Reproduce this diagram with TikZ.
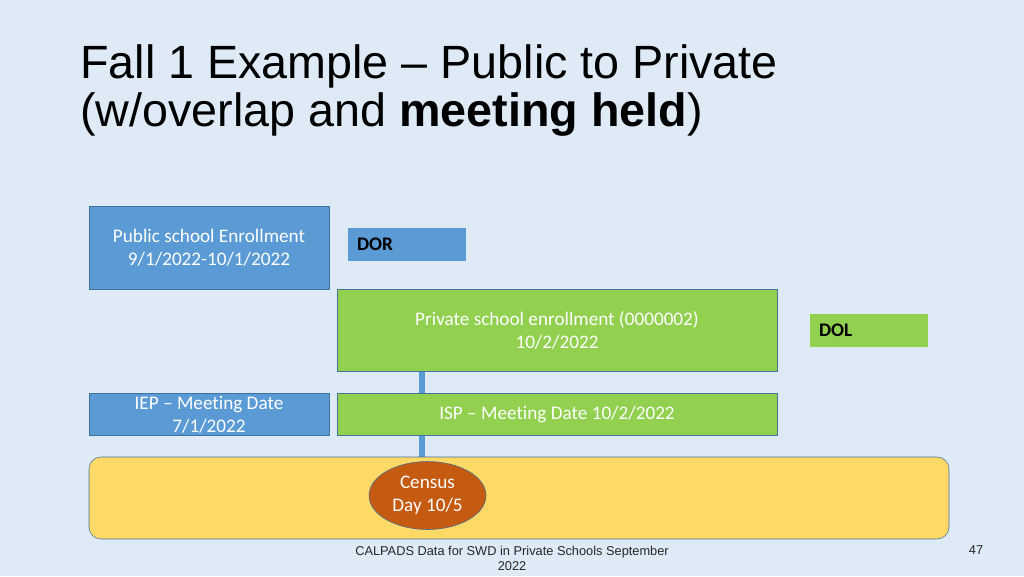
\documentclass[tikz,border=0pt]{standalone}
\usepackage{fontspec}
\setmainfont{Carlito}[Ligatures={TeX,NoCommon}]
\newfontfamily\titlefont{Liberation Sans}
\usetikzlibrary{shapes.geometric,calc}

\definecolor{slidebg}{RGB}{222,235,247}
\definecolor{bluefill}{RGB}{91,155,213}
\definecolor{blueline}{RGB}{65,113,156}
\definecolor{greenfill}{RGB}{146,208,80}
\definecolor{yellowfill}{RGB}{255,217,102}
\definecolor{censusfill}{RGB}{197,90,17}

\newcommand{\boxfont}{\fontsize{14.4}{17.25}\selectfont}

\pgfdeclarelayer{back}
\pgfsetlayers{back,main}

\tikzset{every picture/.style={line width=0.75pt}}
\tikzset{
	bluebox/.style={draw=blueline, fill=bluefill, text=white, font=\boxfont, align=center, inner sep=0pt, minimum width=180pt},
	greenbox/.style={draw=blueline, fill=greenfill, text=white, font=\boxfont, align=center, inner sep=0pt, minimum width=330pt},
	tagbox/.style={fill=#1, text=black, font=\boxfont\bfseries, align=left, inner xsep=6.75pt, inner ysep=0pt, text width=75pt, minimum height=24.75pt},
	footer/.style={font=\titlefont\fontsize{9.6}{11.25}\selectfont, text=black!85, align=center, inner sep=0pt}
}

\begin{document}
\begin{tikzpicture}[x=0.75pt,y=0.75pt,yscale=-1,xscale=1]
	\useasboundingbox (0,0) rectangle (1024,576);
	\begin{pgfonlayer}{back}
	\fill [slidebg] (0,0) rectangle (1024,576);
	\end{pgfonlayer}

	% Title
	\draw (80,78) node [anchor=base west, inner sep=0pt, font=\titlefont\fontsize{35}{36}\selectfont] (title1) {Fall 1 Example – Public to Private};
	\draw (80,126) node [anchor=base west, inner sep=0pt, font=\titlefont\fontsize{35}{36}\selectfont] (title2) {(w/overlap and \textbf{meeting held})};

	%Shape: Rectangle
	\draw (209,247.5) node [bluebox, minimum height=62.25pt] (pub) {Public school Enrollment\\9/1/2022-10/1/2022};
	%Shape: Rectangle
	\draw (407,244.5) node [tagbox=bluefill] (dor) {DOR};
	%Shape: Rectangle
	\draw (557,330.5) node [greenbox, minimum height=61.5pt] (priv) {Private school enrollment (0000002)\\10/2/2022};
	%Shape: Rectangle
	\draw (869,330.5) node [tagbox=greenfill] (dol) {DOL};
	%Shape: Rectangle
	\draw (209,414.5) node [bluebox, minimum height=31.5pt] (iep) {IEP – Meeting Date\\7/1/2022};
	%Shape: Rectangle
	\draw (557,414.5) node [greenbox, minimum height=31.5pt] (isp) {ISP – Meeting Date 10/2/2022};

	%Shape: Rounded Rect
	\draw (519,498) node [draw=blueline, fill=yellowfill, rounded corners=9pt, minimum width=645pt, minimum height=61.5pt, inner sep=0pt] (band) {};
	%Shape: Ellipse
	\draw (427.5,495.5) node [ellipse, draw=blueline, fill=censusfill, text=white, font=\boxfont, align=center, inner sep=0pt, minimum width=87.75pt, minimum height=51pt] (census) {Census\\Day 10/5};

	%Straight Lines
	\coordinate (linetop) at ($(priv.south west)+(85,0)$);
	\begin{pgfonlayer}{back}
	\draw [bluefill, line width=4.5pt] (linetop) -- (linetop |- band.north);
	\end{pgfonlayer}

	% Text Node
	\draw (512,558.5) node [footer] (foot) {CALPADS Data for SWD in Private Schools September\\2022};
	% Text Node
	\draw (976,550) node [footer] (page) {47};

\end{tikzpicture}
\end{document}
